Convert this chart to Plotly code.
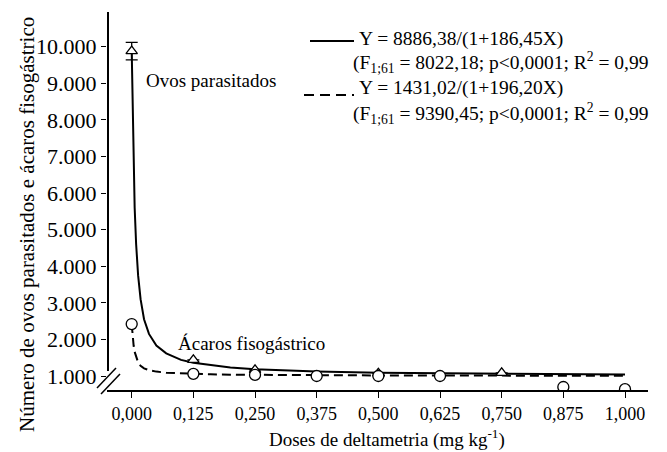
import plotly.graph_objects as go

# ---- data ----
dose_ticks = [0, 0.125, 0.25, 0.375, 0.5, 0.625, 0.75, 0.875, 1.0]
dose_labels = ["0,000", "0,125", "0,250", "0,375", "0,500", "0,625", "0,750", "0,875", "1,000"]
y_ticks = [1000, 2000, 3000, 4000, 5000, 6000, 7000, 8000, 9000, 10000]
y_labels = ["1.000", "2.000", "3.000", "4.000", "5.000", "6.000", "7.000", "8.000", "9.000", "10.000"]

# fitted curve (ovos parasitados)
ovos_curve_x = [0, 0.002, 0.004, 0.006, 0.009, 0.013, 0.018, 0.025, 0.035, 0.05, 0.07, 0.1,
                0.125, 0.16, 0.2, 0.25, 0.3, 0.375, 0.5, 0.625, 0.75, 0.875, 1.0]
ovos_curve_y = [9900, 8000, 6700, 5600, 4600, 3750, 3100, 2550, 2150, 1830, 1620, 1440,
                1360, 1290, 1230, 1185, 1155, 1120, 1090, 1075, 1060, 1050, 1040]
# fitted curve (ácaros fisogástrico)
acaros_curve_x = [0, 0.002, 0.004, 0.006, 0.009, 0.013, 0.018, 0.025, 0.035, 0.05, 0.07, 0.1,
                  0.125, 0.16, 0.2, 0.25, 0.375, 0.5, 0.625, 0.75, 0.875, 1.0]
acaros_curve_y = [2420, 2050, 1820, 1660, 1500, 1370, 1280, 1210, 1160, 1120, 1090, 1070,
                  1058, 1045, 1037, 1030, 1020, 1015, 1012, 1010, 1008, 1007]

# observed points
ovos_x = [0, 0.125, 0.25, 0.5, 0.75]
ovos_y = [9880, 1440, 1170, 1075, 1085]
ovos_err = [240, 0, 0, 0, 0]
acaros_x = [0, 0.125, 0.25, 0.375, 0.5, 0.625, 0.875, 1.0]
acaros_y = [2420, 1060, 1030, 1000, 1000, 1000, 700, 640]

FONT = "Liberation Serif, Times New Roman, serif"

# plot-area frame in reference pixels
L, R, T, B = 107, 648, 12, 390
W, H = 667, 452
OFF = 8  # page body margin


def px(xp):
    return (xp - L) / (R - L)


def py(yp):
    return (B - yp) / (B - T)


fig = go.Figure()
fig.add_trace(go.Scatter(x=ovos_curve_x, y=ovos_curve_y, mode="lines",
                         line=dict(color="black", width=2), showlegend=False))
fig.add_trace(go.Scatter(x=acaros_curve_x, y=acaros_curve_y, mode="lines",
                         line=dict(color="black", width=2, dash="9px,5px"), showlegend=False))
fig.add_trace(go.Scatter(x=ovos_x, y=ovos_y, mode="markers",
                         marker=dict(symbol="triangle-up", size=10, color="white",
                                     line=dict(color="black", width=1.3)),
                         error_y=dict(type="data", array=ovos_err, color="black",
                                      thickness=1.3, width=6),
                         showlegend=False))
fig.add_trace(go.Scatter(x=acaros_x, y=acaros_y, mode="markers",
                         marker=dict(symbol="circle", size=11, color="white",
                                     line=dict(color="black", width=1.3)),
                         showlegend=False))

shapes = [
    # y axis line (broken)
    dict(type="line", xref="paper", yref="paper", x0=px(108), x1=px(108), y0=py(12), y1=py(371),
         line=dict(color="black", width=2)),
    # break marks
    dict(type="line", xref="paper", yref="paper", x0=px(97), y0=py(388), x1=px(116), y1=py(368),
         line=dict(color="black", width=1.5)),
    dict(type="line", xref="paper", yref="paper", x0=px(101), y0=py(394), x1=px(120), y1=py(374),
         line=dict(color="black", width=1.5)),
    # legend samples
    dict(type="line", xref="paper", yref="paper", x0=px(310), x1=px(354), y0=py(41), y1=py(41),
         line=dict(color="black", width=2)),
    dict(type="line", xref="paper", yref="paper", x0=px(304), x1=px(354), y0=py(95), y1=py(95),
         line=dict(color="black", width=2, dash="10px,6px")),
]

ann = [
    dict(text="Y = 8886,38/(1+186,45X)", x=px(357), y=py(39), xanchor="left", yanchor="middle", size=19.5),
    dict(text="(F<sub>1;61</sub> = 8022,18; p&lt;0,0001; R<sup>2</sup> = 0,99", x=px(351), y=py(63),
         xanchor="left", yanchor="middle", size=19.5),
    dict(text="Y = 1431,02/(1+196,20X)", x=px(357), y=py(88), xanchor="left", yanchor="middle", size=19.5),
    dict(text="(F<sub>1;61</sub> = 9390,45; p&lt;0,0001; R<sup>2</sup> = 0,99", x=px(351), y=py(113),
         xanchor="left", yanchor="middle", size=19.5),
    dict(text="Ovos parasitados", x=px(211), y=py(80), xanchor="center", yanchor="middle", size=19),
    dict(text="Ácaros fisogástrico", x=px(251), y=py(343), xanchor="center", yanchor="middle", size=19),
    dict(text="Doses de deltametria (mg kg<sup>-1</sup>)", x=px(387), y=py(439),
         xanchor="center", yanchor="middle", size=19),
    dict(text="Número de ovos parasitados e ácaros fisogástrico", x=px(27), y=py(225),
         xanchor="center", yanchor="middle", textangle=-90, size=21),
]
for a in ann:
    s = a.pop("size")
    a.update(xref="paper", yref="paper", showarrow=False,
             font=dict(family=FONT, size=s, color="black"))

fig.update_layout(
    width=W - OFF, height=H - OFF,
    margin=dict(l=L - OFF, r=W - R, t=T - OFF, b=H - B, pad=0),
    paper_bgcolor="white", plot_bgcolor="white",
    shapes=shapes, annotations=ann,
    font=dict(family=FONT, color="black"),
    xaxis=dict(range=[(L - 131.7) / 493.3, (R - 131.7) / 493.3],
               tickvals=dose_ticks, ticktext=dose_labels,
               showline=True, linecolor="black", linewidth=2,
               ticks="outside", ticklen=6, tickwidth=1.3, tickcolor="black",
               showgrid=False, zeroline=False,
               tickfont=dict(family=FONT, size=18, color="black")),
    yaxis=dict(range=[1000 - (B - 376) / 36.59 * 1000, 10000 + (46.7 - T) / 36.59 * 1000],
               tickvals=y_ticks, ticktext=y_labels,
               showline=False,
               ticks="outside", ticklen=5, tickwidth=1.3, tickcolor="black",
               showgrid=False, zeroline=False,
               tickfont=dict(family=FONT, size=22, color="black")),
)

fig.write_html("out.html")
